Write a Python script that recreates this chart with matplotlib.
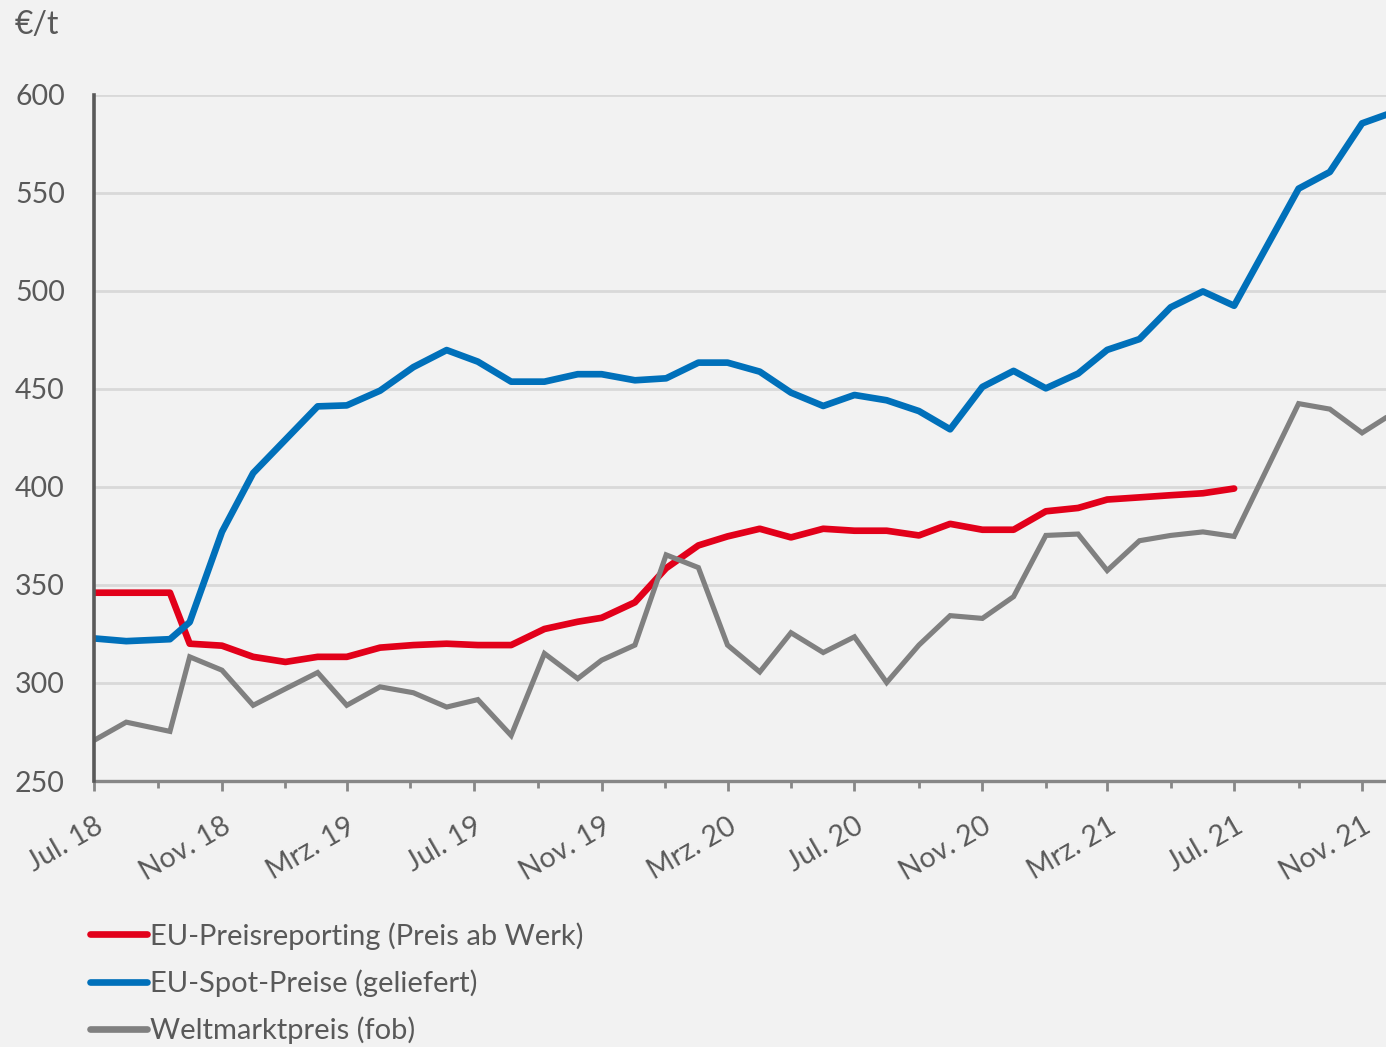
import matplotlib
matplotlib.use("Agg")
import matplotlib.pyplot as plt
import matplotlib.dates as mdates
from matplotlib.ticker import FuncFormatter, NullFormatter
import pandas as pd

# ---------------- data ----------------
dates = ["2018-07-01", "2018-08-01", "2018-09-12", "2018-10-01", "2018-11-01", "2018-12-01",
         "2019-01-01", "2019-02-01", "2019-03-01", "2019-04-02", "2019-05-04", "2019-06-05",
         "2019-07-05", "2019-08-06", "2019-09-07", "2019-10-09", "2019-11-01", "2019-12-03",
         "2020-01-02", "2020-02-02", "2020-03-01", "2020-04-01", "2020-05-01", "2020-06-01",
         "2020-07-01", "2020-08-01", "2020-09-01", "2020-10-01", "2020-11-01", "2020-12-01",
         "2021-01-01", "2021-02-01", "2021-03-01", "2021-04-01", "2021-05-01", "2021-06-01",
         "2021-07-01", "2021-09-01", "2021-10-01", "2021-11-01", "2021-12-01"]

eu_preisreporting = [346, 346, 346, 320, 319, 313.3, 310.7, 313.3, 313.3, 318, 319.3, 320,
                     319.3, 319.3, 327.5, 331.2, 333.2, 341.1, 358.5, 370.1, 374.7, 378.6,
                     374.2, 378.6, 377.6, 377.6, 375.2, 381.1, 378.1, 378.1, 387.5, 389.2,
                     393.5, 394.6, 395.7, 396.7, 399.1]

eu_spot = [322.7, 321.3, 322.3, 331, 377, 407, 424, 441, 441.5, 449, 461, 469.7,
           463.8, 453.6, 453.6, 457.4, 457.4, 454.3, 455.3, 463.3, 463.3, 458.7,
           448, 441.2, 446.8, 444.1, 438.6, 429.3, 450.9, 459.1, 450.2, 457.7,
           469.8, 475.3, 491.5, 499.6, 492.3, 552, 560.5, 585.3, 591]

weltmarkt = [270.7, 280, 275.3, 313.3, 306.5, 288.6, 297, 305.3, 288.6, 298, 295, 287.7,
             291.5, 273.2, 315, 302.2, 311.6, 319.3, 365.3, 358.8, 319.3, 305.6,
             325.6, 315.5, 323.5, 300.2, 319.3, 334.3, 332.9, 344, 375.2, 375.9,
             357.3, 372.5, 375.2, 377, 374.7, 442.4, 439.6, 427.5, 437.6]

labels = ["EU-Preisreporting (Preis ab Werk)", "EU-Spot-Preise (geliefert)", "Weltmarktpreis (fob)"]
y_ticks = [250, 300, 350, 400, 450, 500, 550, 600]
month_names = {1: "Jan.", 3: "Mrz.", 5: "Mai", 7: "Jul.", 9: "Sep.", 11: "Nov."}
unit_label = "€/t"

# ---------------- style ----------------
BG = "#F2F2F2"
TXT = "#595959"
RED = "#E2001A"
BLUE = "#0070BA"
GRAY = "#808080"
FONT = ["Lato", "DejaVu Sans"]
plt.rcParams["font.family"] = FONT

x = pd.to_datetime(dates)

fig = plt.figure(figsize=(13.86, 10.47), dpi=100, facecolor=BG)
ax = fig.add_axes([94 / 1386, 1 - 781 / 1047, (1386 - 94) / 1386, (781 - 94.5) / 1047])
ax.set_facecolor(BG)

l1, = ax.plot(x[:len(eu_preisreporting)], eu_preisreporting, color=RED, lw=4.8,
              solid_capstyle="round", solid_joinstyle="round", label=labels[0], zorder=3)
l2, = ax.plot(x, eu_spot, color=BLUE, lw=4.8, solid_capstyle="butt",
              solid_joinstyle="round", label=labels[1], zorder=4)
l3, = ax.plot(x, weltmarkt, color=GRAY, lw=3.7, solid_capstyle="butt",
              solid_joinstyle="miter", label=labels[2], zorder=5)

ax.set_ylim(250, 600)
ax.set_xlim(pd.Timestamp("2018-07-01"), pd.Timestamp("2021-11-24"))
ax.set_yticks(y_ticks)
ax.yaxis.grid(True, color="#D9D9D9", lw=2)
ax.set_axisbelow(True)

ax.xaxis.set_major_locator(mdates.MonthLocator(bymonth=[3, 7, 11]))
ax.xaxis.set_minor_locator(mdates.MonthLocator(bymonth=[1, 5, 9]))


def fmt(val, pos):
    d = mdates.num2date(val)
    return f"{month_names[d.month]} {d.strftime('%y')}"


ax.xaxis.set_major_formatter(FuncFormatter(fmt))
ax.xaxis.set_minor_formatter(NullFormatter())

for s in ["top", "right"]:
    ax.spines[s].set_visible(False)
ax.spines["left"].set_color("#595959")
ax.spines["left"].set_linewidth(2.6)
ax.spines["bottom"].set_color("#878787")
ax.spines["bottom"].set_linewidth(2.4)
ax.spines["left"].set_zorder(6)

ax.tick_params(axis="y", length=0, pad=21, labelsize=20.5, labelcolor=TXT)
ax.tick_params(axis="x", which="major", length=7, width=2, color="#878787",
               pad=16, labelsize=20.5, labelcolor=TXT)
ax.tick_params(axis="x", which="minor", length=5, width=2, color="#878787")
for lab in ax.get_xticklabels():
    lab.set_rotation(30)
    lab.set_ha("right")
    lab.set_va("top")
    lab.set_rotation_mode("anchor")
for lab in ax.get_yticklabels():
    lab.set_ha("right")

fig.text(15 / 1386, 1 - 25 / 1047, unit_label, fontsize=23, color=TXT, va="center", ha="left")

leg = fig.legend(handles=[l1, l2, l3], labels=labels, loc="upper left",
                 bbox_to_anchor=(90 / 1386, 1 - 922 / 1047), frameon=False,
                 fontsize=21, labelcolor=TXT, handlelength=1.95, handletextpad=0.1,
                 labelspacing=0.68, borderpad=0, borderaxespad=0)
for h in leg.legend_handles:
    h.set_solid_capstyle("round")
    h.set_linewidth(4.8)

fig.savefig("out.png", dpi=100, facecolor=BG)
